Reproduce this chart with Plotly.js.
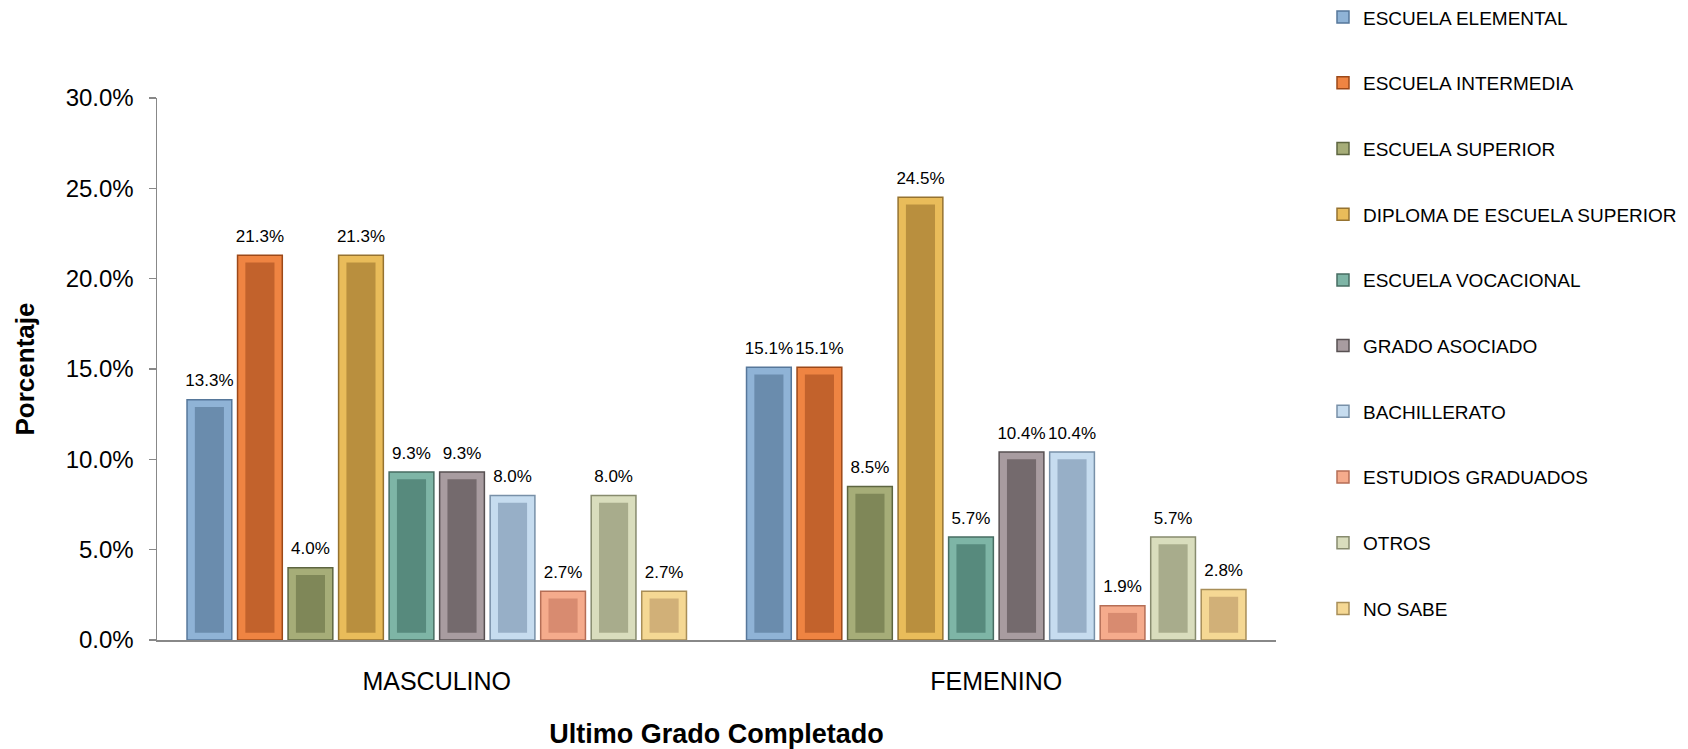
<!DOCTYPE html>
<html>
<head>
<meta charset="utf-8">
<script src="https://cdn.plot.ly/plotly-3.0.1.min.js"></script>
<style>html,body{margin:0;padding:0;background:#fff;}#chart{width:1688px;height:749px;}</style>
</head>
<body>
<div id="chart"></div>
<script>
const categories = ["MASCULINO", "FEMENINO"];
const seriesNames = ["ESCUELA ELEMENTAL", "ESCUELA INTERMEDIA", "ESCUELA SUPERIOR", "DIPLOMA DE ESCUELA SUPERIOR", "ESCUELA VOCACIONAL", "GRADO ASOCIADO", "BACHILLERATO", "ESTUDIOS GRADUADOS", "OTROS", "NO SABE"];
const masculino = [0.133, 0.213, 0.040, 0.213, 0.093, 0.093, 0.080, 0.027, 0.080, 0.027];
const femenino  = [0.151, 0.151, 0.085, 0.245, 0.057, 0.104, 0.104, 0.019, 0.057, 0.028];
const yTickVals = [0, 0.05, 0.10, 0.15, 0.20, 0.25, 0.30];

const outerColors  = ["#8fb3d6", "#ef8442", "#a6ad78", "#e9bc5a", "#7eb5a6", "#a89ca0", "#c6dcef", "#f5ab8c", "#d9ddbd", "#f5d894"];
const innerColors  = ["#6a8cad", "#c2622c", "#7f8758", "#b98f3e", "#578a7d", "#746a6d", "#97afc7", "#d88b70", "#a8ac8c", "#d1b078"];
const borderColors = ["#56779a", "#9c4818", "#5d6540", "#957230", "#476c62", "#575052", "#7890a8", "#b56e56", "#878b6e", "#a88e58"];

const n = seriesNames.length;
const barW = 0.080, pitch = 0.0903;
const span = (n - 1) * pitch + barW;
const bevelFrac = 0.014;   // inner panel width reduction (category units)
const bevelY = 0.0040;     // inner panel inset (data units)
const labelLift = 0.0035;  // extra gap between bar top and its label (data units)

const traces = [];
for (let i = 0; i < n; i++) {
  const vals = [masculino[i], femenino[i]];
  const off = -span / 2 + i * pitch;
  traces.push({
    type: "bar", name: seriesNames[i], x: categories, y: vals,
    offset: off, width: barW, legendgroup: "g" + i,
    marker: {color: outerColors[i], line: {color: borderColors[i], width: 1.5}},
    hoverinfo: "name+y"
  });
  traces.push({
    type: "bar", name: seriesNames[i], x: categories,
    y: vals.map(v => v - 2 * bevelY), base: [bevelY, bevelY],
    offset: off + bevelFrac, width: barW - 2 * bevelFrac, legendgroup: "g" + i,
    showlegend: false, hoverinfo: "skip",
    marker: {color: innerColors[i], line: {width: 0}}
  });
  // transparent carrier for the value labels, slightly taller than the bar
  traces.push({
    type: "bar", name: seriesNames[i], x: categories,
    y: vals.map(v => v + labelLift),
    offset: off, width: barW, legendgroup: "g" + i,
    showlegend: false, hoverinfo: "skip",
    marker: {color: "rgba(0,0,0,0)", line: {width: 0}},
    text: vals.map(v => (v * 100).toFixed(1) + "%"), textposition: "outside",
    constraintext: "none",
    textfont: {family: "Liberation Sans, Arial, sans-serif", size: 17, color: "#000"},
    cliponaxis: false
  });
}

const layout = {
  width: 1688, height: 749,
  margin: {l: 157, r: 412, t: 98, b: 109, autoexpand: false},
  paper_bgcolor: "#fff", plot_bgcolor: "#fff",
  barmode: "overlay",
  font: {family: "Liberation Sans, Arial, sans-serif", color: "#000"},
  xaxis: {
    type: "category", range: [-0.5, 1.5], automargin: false,
    showline: true, linecolor: "#888", linewidth: 1.5,
    ticks: "", tickfont: {size: 25, color: "#000"}, ticklabelstandoff: 18,
    title: {text: "<b>Ultimo Grado Completado</b>", font: {size: 27, color: "#000"}, standoff: 32},
    showgrid: false, zeroline: false
  },
  yaxis: {
    range: [0, 0.30], tickvals: yTickVals, tickformat: ".1%", automargin: false,
    showline: true, linecolor: "#888", linewidth: 1.5,
    ticks: "outside", ticklen: 7, tickcolor: "#888", tickwidth: 1.5,
    tickfont: {size: 24, color: "#000"}, ticklabelstandoff: 10,
    title: {text: "<b>Porcentaje</b>", font: {size: 26, color: "#000"}, standoff: 23},
    showgrid: false, zeroline: false
  },
  legend: {
    x: 1.042, xanchor: "left", y: 1.184, yanchor: "top",
    font: {size: 19, color: "#000"}, traceorder: "grouped", tracegroupgap: 38,
    itemwidth: 30, bgcolor: "rgba(0,0,0,0)", maxheight: 1000
  },
  showlegend: true
};

Plotly.newPlot("chart", traces, layout, {displayModeBar: false, staticPlot: true});
</script>
</body>
</html>
